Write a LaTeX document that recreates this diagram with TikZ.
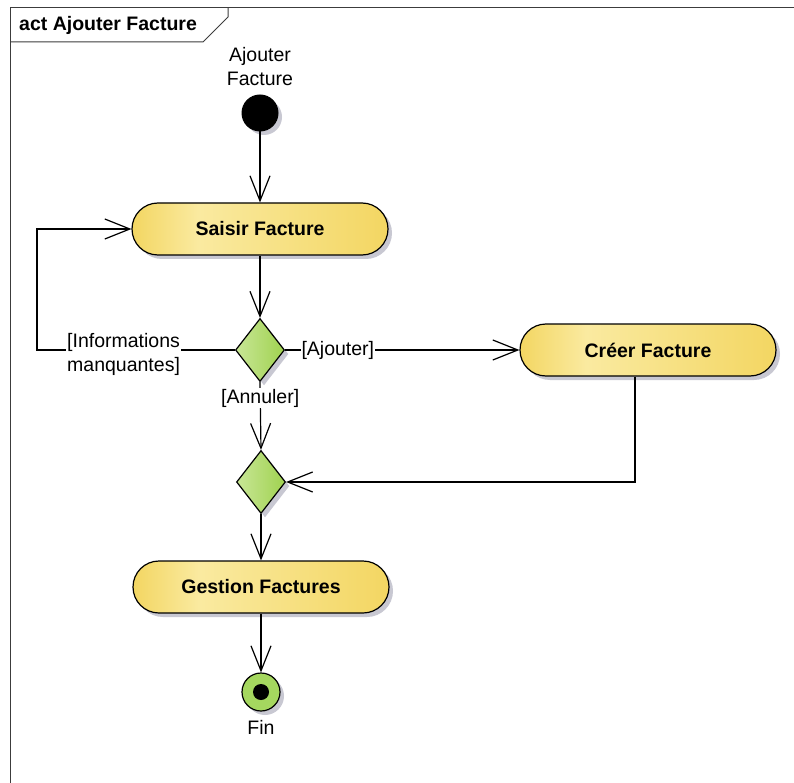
\documentclass[tikz,border=0pt]{standalone}
\usepackage{fontspec}
\setmainfont{Liberation Sans}
\usetikzlibrary{arrows.meta,shapes.geometric,shadows}

\definecolor{actA}{RGB}{243,214,98}
\definecolor{actB}{RGB}{250,234,160}
\definecolor{decA}{RGB}{200,230,150}
\definecolor{decB}{RGB}{160,210,80}
\definecolor{finGreen}{RGB}{165,215,95}
\definecolor{shadowGray}{RGB}{200,200,210}
\definecolor{frameGray}{RGB}{60,60,60}

% light band near the left edge of an action
\pgfdeclarehorizontalshading{actshade}{100bp}{color(0bp)=(actA); color(25bp)=(actA); color(38bp)=(actB); color(75bp)=(actA); color(100bp)=(actA)}

\newcommand{\diagfont}{\fontsize{19.5}{24}\selectfont}

\begin{document}
\begin{tikzpicture}[x=1pt, y=-1pt,
  shade/.style={drop shadow={shadow xshift=4pt, shadow yshift=-4pt, fill=shadowGray, opacity=1}},
  action/.style={rectangle, rounded corners=26pt, minimum width=256pt, minimum height=52pt,
    draw=black, line width=1.2pt, shading=actshade, shade, font=\bfseries\diagfont},
  decision/.style={diamond, minimum width=49pt, minimum height=63pt, inner sep=0pt,
    draw=black, line width=1.2pt, left color=decA, right color=decB, shade},
  initial/.style={circle, minimum size=36pt, inner sep=0pt, draw=black, fill=black, line width=1pt, shade},
  final/.style={circle, minimum size=38pt, inner sep=0pt, draw=black, fill=finGreen, line width=1.2pt, shade},
  flow/.style={draw, line width=1.2pt, -{Straight Barb[length=25pt,width=20pt,line width=1.2pt]}},
  guard/.style={fill=white, inner sep=1pt, font=\diagfont},
  plain/.style={font=\diagfont}
]
\useasboundingbox (0,0) rectangle (794,783);

% diagram frame and its name tab
\draw[line width=1pt, frameGray] (10,783) -- (10,8) -- (794,8);
\draw[line width=1pt, frameGray] (228,8) -- (228,17) -- (203,42) -- (10,42);
\node[font=\bfseries\diagfont, anchor=west, inner sep=0pt] (title) at (19,25) {act Ajouter Facture};

% nodes
\node[initial] (start) at (260,113) {};
\node[plain, align=center] (startlbl) at (260,67) {Ajouter\\Facture};
\node[action] (saisir) at (260,229) {Saisir Facture};
\node[decision] (d1) at (260,350) {};
\node[action] (creer) at (648,350) {Créer Facture};
\node[decision] (d2) at (261,482) {};
\node[action] (gestion) at (261,587) {Gestion Factures};
\node[final] (fin) at (261,692) {};
\fill[black] (fin.center) circle (8pt);
\node[plain] (finlbl) at (261,727) {Fin};
\coordinate (loopcorner) at (37,350);

% control flows
\draw[flow] (start) -- (saisir);
\draw[flow] (saisir) -- (d1);
\draw[flow] (d1.east) -- node[guard, pos=0.225] {[Ajouter]} (creer.west);
\draw[flow] (d1.west) -- (loopcorner) |- (saisir.west);
\node[guard, align=left, anchor=west] (infolbl) at (66,354) {[Informations\\manquantes]};
\draw[flow] (d1.south) -- node[guard, pos=0.235] {[Annuler]} (d2.north);
\draw[flow] ([xshift=-13pt]creer.south) |- (d2.east);
\draw[flow] (d2.south) -- (gestion.north);
\draw[flow] (gestion.south) -- (fin.north);
\end{tikzpicture}
\end{document}
